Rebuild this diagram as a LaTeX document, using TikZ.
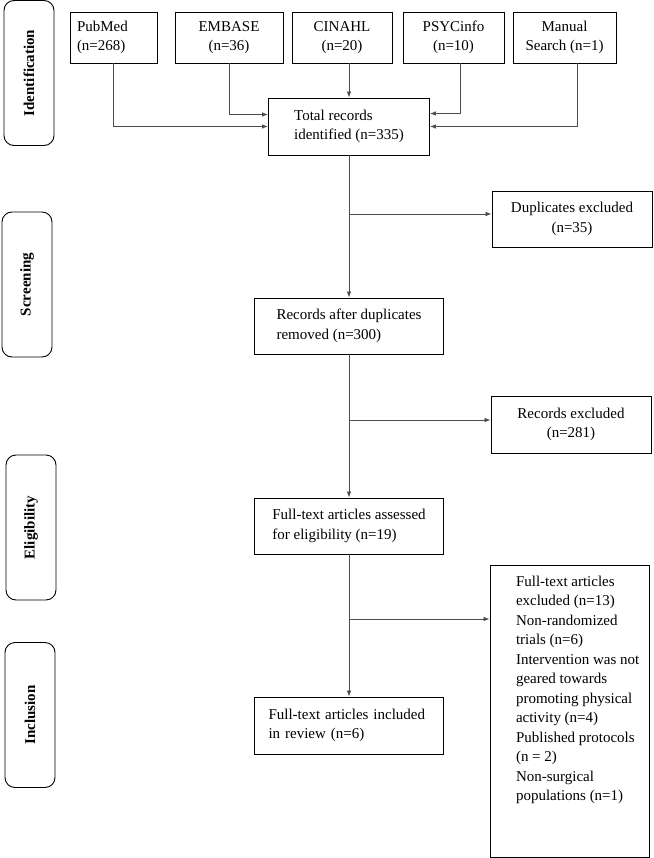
\documentclass[tikz,border=0pt]{standalone}
\usepackage{fontspec}
\setmainfont{Liberation Serif}
\usetikzlibrary{arrows.meta}

\begin{document}
\begin{tikzpicture}[x=1pt,y=-1pt,>={Latex[length=6pt,width=4.5pt]},
  every node/.style={font=\fontsize{15}{19.5}\selectfont},
  box/.style={draw,line width=0.9pt,inner sep=0pt,minimum height=56pt},
  stage/.style={draw,line width=0.9pt,rounded corners=10pt,rotate=90,
    minimum width=145pt,minimum height=50pt,font=\fontsize{15}{18}\selectfont\bfseries},
  flow/.style={->,draw=black!70,line width=0.7pt}]
  \useasboundingbox (0,0) rectangle (653,858);

  % stages on the left
  \node[stage] (ident) at (29,73) {Identification};
  \node[stage] (screen) at (27,284.5) {Screening};
  \node[stage] (elig) at (31,527.5) {Eligibility};
  \node[stage] (incl) at (30,715) {Inclusion};

  % databases
  \node[box,minimum width=87pt,minimum height=51pt,text width=73pt,align=left] (pubmed) at (113.5,37.5) {PubMed\\(n=268)};
  \node[box,minimum width=108pt,minimum height=51pt,align=center] (embase) at (229,37.5) {EMBASE\\(n=36)};
  \node[box,minimum width=100pt,minimum height=51pt,align=center] (cinahl) at (342,37.5) {CINAHL\\(n=20)};
  \node[box,minimum width=101pt,minimum height=51pt,align=center] (psyc) at (453.5,37.5) {PSYCinfo\\(n=10)};
  \node[box,minimum width=103pt,minimum height=51pt,align=center] (manual) at (564.5,37.5) {Manual\\Search (n=1)};

  % main column
  \node[box,minimum width=161pt,minimum height=57pt,align=left] (total) at (349,126.5) {Total records\\identified (n=335)};
  \node[box,minimum width=189pt,align=left] (after) at (349,326) {Records after duplicates\\removed (n=300)};
  \node[box,minimum width=189pt,align=left] (assess) at (349,526) {Full-text articles assessed\\for eligibility (n=19)};
  \node[box,minimum width=189pt,minimum height=57pt,text width=161pt,align=left] (review) at (349,725.5) {Full-text articles included\\in review (n=6)};

  % exclusions
  \node[box,minimum width=160pt,align=center] (dup) at (572,219) {Duplicates excluded\\(n=35)};
  \node[box,minimum width=160pt,minimum height=57pt,align=center] (recex) at (571,424.5) {Records excluded\\(n=281)};
  \node[box] (ftex) at (569.5,711) {\parbox[c][292pt][t]{159pt}{\raggedright\leftskip=26pt
    \vspace*{11pt}Full-text articles\\excluded (n=13)\\Non-randomized\\trials (n=6)\\Intervention was not\\geared towards\\promoting physical\\activity (n=4)\\Published protocols\\(n = 2)\\Non-surgical\\populations (n=1)}};

  \coordinate (j1) at (349,214);
  \coordinate (j2) at (349,420);
  \coordinate (j3) at (349,619);

  \draw[flow] (pubmed.south) |- (total.west);
  \draw[flow] (embase.south) |- ([yshift=12pt]total.west);
  \draw[flow] (total.north |- cinahl.south) -- (total.north);
  \draw[flow] ([xshift=7pt]psyc.south) |- ([yshift=13pt]total.east);
  \draw[flow] ([xshift=13pt]manual.south) |- (total.east);

  \draw[flow] (total) -- (after);
  \draw[flow] (after) -- (assess);
  \draw[flow] (assess) -- (review);
  \draw[flow] (j1) -- (j1 -| dup.west);
  \draw[flow] (j2) -- (j2 -| recex.west);
  \draw[flow] (j3) -- (j3 -| ftex.west);
\end{tikzpicture}
\end{document}
